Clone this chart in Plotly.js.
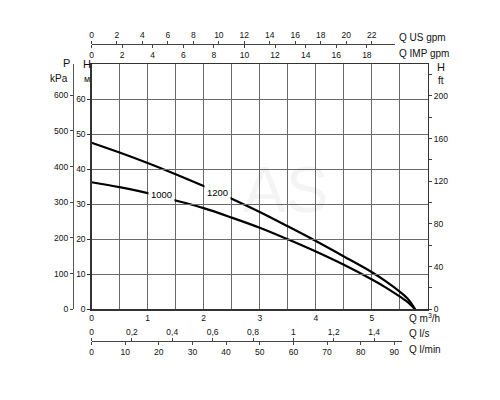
<!DOCTYPE html>
<html>
<head>
<meta charset="utf-8">
<script src="https://cdn.plot.ly/plotly-3.0.1.min.js"></script>
<style>html,body{margin:0;padding:0;background:#fff;}#chart{width:500px;height:400px;}</style>
</head>
<body>
<div id="chart"></div>
<script>
// ---- data (Q in m3/h, H in m) ----
const q1200 = [0, 0.5, 1, 1.5, 2, 2.5, 3, 3.5, 4, 4.5, 5, 5.25, 5.5, 5.65, 5.77];
const h1200 = [47.6, 44.8, 41.8, 38.6, 35.2, 31.6, 27.8, 23.7, 19.5, 15.1, 10.6, 8.0, 5.0, 2.8, 0];
const q1000 = [0, 0.5, 1, 1.5, 2, 2.5, 3, 3.5, 4, 4.5, 5, 5.25, 5.5, 5.65, 5.77];
const h1000 = [36.3, 34.9, 33.2, 31.1, 28.9, 26.2, 23.3, 20.0, 16.5, 12.7, 8.5, 6.2, 3.6, 1.9, 0];
const curveNames = ['1200', '1000'];

// ---- tick labels ----
const qTickVals = [0,0.5,1,1.5,2,2.5,3,3.5,4,4.5,5,5.5,6];
const qTickText = ['0','','1','','2','','3','','4','','5','',''];
const hTickVals = [0,10,20,30,40,50,60,70];
const hTickText = ['0','10','20','30','40','50','60',''];
const kpaTicks = [0,100,200,300,400,500,600];
const ftTicks = [0,40,80,120,160,200];
const usTicks = [0,2,4,6,8,10,12,14,16,18,20,22];
const impTicks = [0,2,4,6,8,10,12,14,16,18];
const lsTicks = [0,0.2,0.4,0.6,0.8,1,1.2,1.4];
const lsText = ['0','0,2','0,4','0,6','0,8','1','1,2','1,4'];
const lminTicks = [0,10,20,30,40,50,60,70,80,90];

// unit conversions from m3/h and m
const US_PER_M3H = 4.40287, IMP_PER_M3H = 3.66615, LS_PER_M3H = 1/3.6, LMIN_PER_M3H = 16.6667;
const KPA_PER_M = 9.80665, FT_PER_M = 1/0.3048;

// ---- layout geometry (pixels in the 500x400 frame) ----
const M = {l:40, r:20, t:20, b:20};
const W = 500 - M.l - M.r, Hh = 400 - M.t - M.b;
const fx = p => (p - M.l) / W;
const fy = p => (400 - M.b - p) / Hh;
const X0 = 91.5, X1 = 428, Y0 = 309.3, Y1 = 64.3;
const QMAX = 6, HMAX = 70;
const pxPerQ = (X1 - X0) / QMAX, pxPerH = (Y0 - Y1) / HMAX;
const topEnd = 395, botEnd = 402;
const qTopEnd = (topEnd - X0) / pxPerQ, qBotEnd = (botEnd - X0) / pxPerQ;

const FONT = 'Liberation Sans, Arial, sans-serif';
const tickFont = {family: FONT, size: 8.5, color: '#111'};
const gridC = '#6a6a6a';

const traces = [
  {x: q1200, y: h1200, name: curveNames[0], mode: 'lines', line: {color: '#000', width: 2.2, shape: 'spline', smoothing: 1}, xaxis: 'x', yaxis: 'y', hoverinfo: 'skip'},
  {x: q1000, y: h1000, name: curveNames[1], mode: 'lines', line: {color: '#000', width: 2.2, shape: 'spline', smoothing: 1}, xaxis: 'x', yaxis: 'y', hoverinfo: 'skip'},
  {x: [null], y: [null], xaxis: 'x2', yaxis: 'y', hoverinfo: 'skip', showlegend: false},
  {x: [null], y: [null], xaxis: 'x3', yaxis: 'y', hoverinfo: 'skip', showlegend: false},
  {x: [null], y: [null], xaxis: 'x4', yaxis: 'y', hoverinfo: 'skip', showlegend: false},
  {x: [null], y: [null], xaxis: 'x5', yaxis: 'y', hoverinfo: 'skip', showlegend: false},
  {x: [null], y: [null], xaxis: 'x', yaxis: 'y2', hoverinfo: 'skip', showlegend: false},
  {x: [null], y: [null], xaxis: 'x', yaxis: 'y3', hoverinfo: 'skip', showlegend: false}
];

const xDom = [fx(X0), fx(X1)];
const yDom = [fy(Y0), fy(Y1)];
const topDom = [fx(X0), fx(topEnd)];
const botDom = [fx(X0), fx(botEnd)];

function ann(text, x, y, size, xanchor, extra) {
  return Object.assign({text: text, xref: 'paper', yref: 'paper', x: fx(x), y: fy(y), showarrow: false,
    xanchor: xanchor || 'left', yanchor: 'middle', font: {family: FONT, size: size, color: '#111'}}, extra || {});
}

const layout = {
  width: 500, height: 400,
  margin: M,
  paper_bgcolor: '#fff', plot_bgcolor: 'rgba(0,0,0,0)',
  showlegend: false,
  xaxis: {domain: xDom, range: [0, QMAX], tickmode: 'array', tickvals: qTickVals, ticktext: qTickText,
    showgrid: true, gridcolor: gridC, gridwidth: 1, zeroline: false, showline: true, mirror: true,
    linecolor: '#333', linewidth: 1.2, ticks: '', tickfont: tickFont, anchor: 'y'},
  yaxis: {domain: yDom, range: [0, HMAX], tickmode: 'array', tickvals: hTickVals, ticktext: hTickText,
    showgrid: true, gridcolor: gridC, gridwidth: 1, zeroline: false, showline: true, mirror: true,
    linecolor: '#333', linewidth: 1.2, ticks: 'outside', ticklen: 3, tickcolor: '#333', tickfont: tickFont, anchor: 'x'},
  yaxis2: {overlaying: 'y', side: 'right', anchor: 'x', range: [0, HMAX * FT_PER_M], tickmode: 'array', tickvals: ftTicks,
    showgrid: false, zeroline: false, showline: false, ticks: 'outside', ticklen: 3, tickcolor: '#444', tickfont: tickFont,
    minor: {dtick: 20, ticks: 'outside', ticklen: 3, tickcolor: '#444', showgrid: false}},
  yaxis3: {overlaying: 'y', side: 'left', anchor: 'free', position: fx(73), range: [0, HMAX * KPA_PER_M], tickmode: 'array', tickvals: kpaTicks,
    showgrid: false, zeroline: false, showline: true, linecolor: '#555', linewidth: 1.2, ticks: 'outside', ticklen: 3, tickcolor: '#444', tickfont: tickFont},
  xaxis2: {domain: topDom, anchor: 'free', position: fy(44), side: 'top', range: [0, qTopEnd * US_PER_M3H], tickmode: 'array', tickvals: usTicks,
    showgrid: false, zeroline: false, showline: true, linecolor: '#444', linewidth: 1, ticks: 'outside', ticklen: 3, tickcolor: '#444', tickfont: tickFont},
  xaxis3: {domain: topDom, anchor: 'free', position: fy(44), side: 'bottom', range: [0, qTopEnd * IMP_PER_M3H], tickmode: 'array', tickvals: impTicks,
    showgrid: false, zeroline: false, showline: false, ticks: 'outside', ticklen: 3, tickcolor: '#444', tickfont: tickFont},
  xaxis4: {domain: botDom, anchor: 'free', position: fy(341), side: 'top', range: [0, qBotEnd * LS_PER_M3H], tickmode: 'array', tickvals: lsTicks, ticktext: lsText,
    showgrid: false, zeroline: false, showline: true, linecolor: '#444', linewidth: 1, ticks: 'outside', ticklen: 3, tickcolor: '#444', tickfont: tickFont},
  xaxis5: {domain: botDom, anchor: 'free', position: fy(341), side: 'bottom', range: [0, qBotEnd * LMIN_PER_M3H], tickmode: 'array', tickvals: lminTicks,
    showgrid: false, zeroline: false, showline: false, ticks: 'outside', ticklen: 3, tickcolor: '#444', tickfont: tickFont},
  annotations: [
    {text: 'AS', xref: 'x', yref: 'y', x: (285 - X0) / pxPerQ, y: (Y0 - 190) / pxPerH, showarrow: false,
      font: {family: FONT, size: 64, color: 'rgba(0,0,0,0.045)'}},
    {text: curveNames[0], xref: 'x', yref: 'y', x: (217.5 - X0) / pxPerQ, y: (Y0 - 192) / pxPerH, showarrow: false,
      bgcolor: '#fff', borderpad: 2, font: {family: FONT, size: 9.5, color: '#000'}},
    {text: curveNames[1], xref: 'x', yref: 'y', x: (161 - X0) / pxPerQ, y: (Y0 - 194.5) / pxPerH, showarrow: false,
      bgcolor: '#fff', borderpad: 2, font: {family: FONT, size: 9.5, color: '#000'}},
    ann('Q US gpm', 397, 37, 10),
    ann('Q IMP gpm', 397, 53, 10),
    ann('H', 441, 66.5, 11, 'center'),
    ann('ft', 441, 81, 10, 'center'),
    ann('H', 87, 64, 11, 'center'),
    ann('м', 87, 79, 9, 'center'),
    ann('P', 66.5, 63, 11, 'center'),
    ann('kPa', 58.5, 78, 10, 'center')
  ].concat([
    ann('Q m<sup>3</sup>/h', 407, 318, 10),
    ann('Q l/s', 407, 333, 10),
    ann('Q l/min', 407, 349, 10)
  ])
};

Plotly.newPlot('chart', traces, layout, {staticPlot: true, displayModeBar: false});
</script>
</body>
</html>
